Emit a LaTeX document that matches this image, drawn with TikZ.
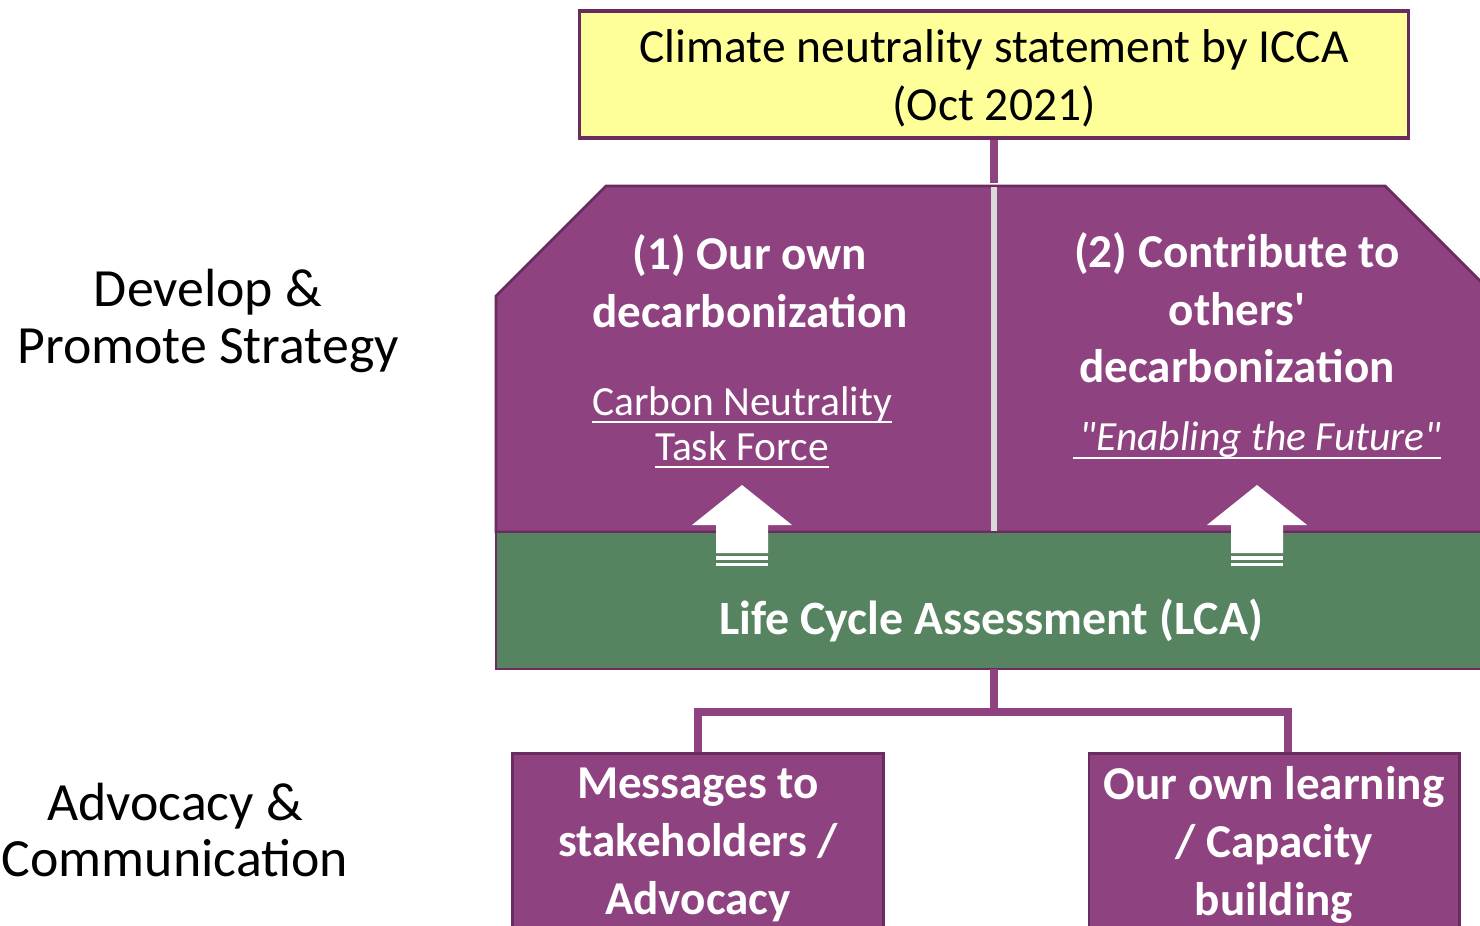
\documentclass[tikz,border=0pt]{standalone}
\usepackage{fontspec}
\setmainfont{Carlito}
\usetikzlibrary{positioning,calc}
\definecolor{plum10}{RGB}{143, 66, 128}
\definecolor{plumedge}{RGB}{106, 44, 95}
\definecolor{green10}{RGB}{86, 132, 97}
\definecolor{yellow10}{RGB}{255, 255, 153}
\definecolor{gray10}{RGB}{217, 217, 217}
\newcommand{\lowline}[2][2.2pt]{\leavevmode\setbox0=\hbox{#2}\rlap{\rule[-#1]{\wd0}{0.6pt}}\box0}

\begin{document}
\begin{tikzpicture}[x=0.01cm, y=-0.01cm,
  side/.style={align=center, font=\fontsize{15.3}{16.2}\selectfont},
  head/.style={align=center, text=white, font=\bfseries\fontsize{13.4}{16.4}\selectfont},
  sub/.style={align=center, text=white, font=\fontsize{11.8}{12.8}\selectfont},
  link/.style={draw=plum10, line width=2.2pt},
  purplebox/.style={draw=plumedge, fill=plum10, line width=0.8pt, minimum width=3.7cm, minimum height=2.4cm, anchor=north}]
  \useasboundingbox (0,0) rectangle (1480,925);

  % statement on top
  \node (stmt) [draw=plumedge, fill=yellow10, line width=0.9pt, minimum width=8.28cm, minimum height=1.27cm] at (994,74.5) {};
  \node (stmttext) [align=center, font=\fontsize{13.5}{16.5}\selectfont] at (994,78) {Climate neutrality statement by ICCA\\(Oct 2021)};

  % strategy block
  \filldraw[fill=plum10, draw=plumedge, line width=0.8pt] (496,532) -- (496,296) -- (606,186) -- (1385,186) -- (1500,301) -- (1500,532) -- cycle;
  \filldraw[fill=green10, draw=plumedge, line width=0.8pt] (496,532) rectangle (1500,669);
  \draw[draw=gray10, line width=1.7pt] (994,187) -- (994,531);
  \coordinate (strat) at (994,183);
  \draw[link] (stmt.south) -- (strat);

  % arrows out of the LCA
  \fill[white] (742,485) -- (792,525) -- (768,525) -- (768,553) -- (716,553) -- (716,525) -- (692,525) -- cycle;
  \fill[white] (716,556) rectangle (768,560);
  \fill[white] (716,563) rectangle (768,566);
  \fill[white] (1257,485) -- (1307,525) -- (1283,525) -- (1283,553) -- (1231,553) -- (1231,525) -- (1207,525) -- cycle;
  \fill[white] (1231,556) rectangle (1283,560);
  \fill[white] (1231,563) rectangle (1283,566);

  \node (own) [head] at (750,281) {(1) Our own\\decarbonization};
  \node (task) [sub] at (742,427) {\lowline{Carbon Neutrality}\\\lowline{Task Force}};
  \node (others) [head] at (1237,308) {(2) Contribute to\\others\textquotesingle\\decarbonization};
  \node (enab) [sub, font=\itshape\fontsize{11.8}{12.8}\selectfont] at (1257,440) {\lowline[2.4pt]{\,\textquotedbl Enabling the Future\textquotedbl}};
  \node (lca) [head, font=\bfseries\fontsize{13.6}{16.4}\selectfont] at (991,621) {Life Cycle Assessment (LCA)};

  % advocacy boxes
  \node (msg) [purplebox] at (698,752) {};
  \node (learn) [purplebox] at (1274,752) {};
  \node (msgtext) [head] at (698,845) {Messages to\\stakeholders /\\Advocacy};
  \node (learntext) [head] at (1274,845) {Our own learning\\/ Capacity\\building};
  \coordinate (lcabot) at (994,669);
  \coordinate (split) at (994,712);
  \draw[link] (lcabot) -- (split);
  \draw[link] (msg.north) |- (split) -| ([xshift=0.14cm]learn.north);

  % side labels
  \node (dev) [side] at (208,321) {Develop \&\\Promote Strategy};
  \node (adv) [side] at (175,830) {Advocacy \&\\Communication};
\end{tikzpicture}
\end{document}
